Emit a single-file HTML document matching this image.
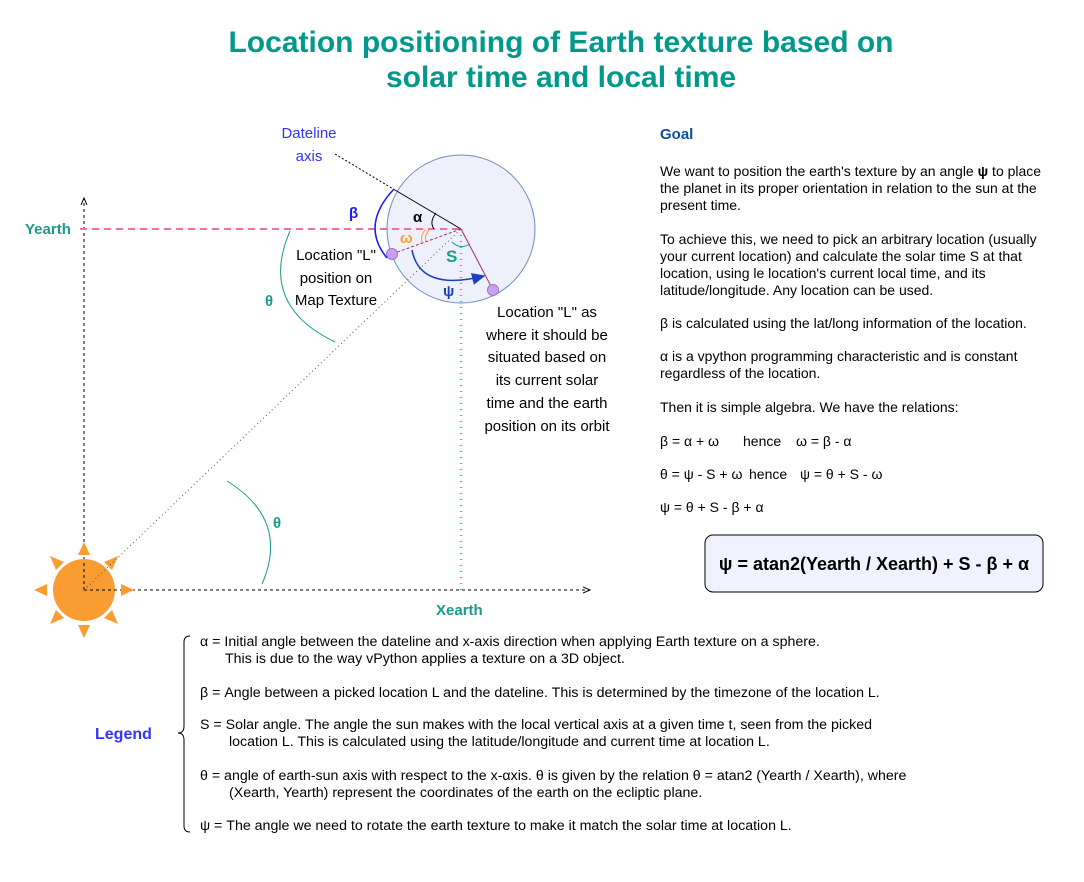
<!DOCTYPE html>
<html><head><meta charset="utf-8"><style>
body{margin:0;background:#fff;}
svg text{font-family:"Liberation Sans",Arial,sans-serif;}
</style></head><body>
<svg width="1084" height="877" viewBox="0 0 1084 877" xmlns="http://www.w3.org/2000/svg">
<defs>
<marker id="arr" markerWidth="8" markerHeight="8" refX="7" refY="4" orient="auto"><path d="M0,1 L7,4 L0,7" fill="none" stroke="#000" stroke-width="1"/></marker>
<marker id="arrb" markerWidth="10" markerHeight="10" refX="8" refY="5" orient="auto"><path d="M0,1 L9,5 L0,9 Z" fill="#1a3fbf"/></marker>
</defs>
<g fill="#00998a" font-weight="bold" font-size="30" text-anchor="middle">
<text x="561" y="52">Location positioning of Earth texture based on</text>
<text x="561" y="87">solar time and local time</text>
</g>
<line x1="84" y1="590" x2="84" y2="198" stroke="#000" stroke-dasharray="3,3" marker-end="url(#arr)"/>
<line x1="84" y1="590" x2="590" y2="590" stroke="#000" stroke-dasharray="3,3" marker-end="url(#arr)"/>
<g fill="#f99d32">
<circle cx="84" cy="590" r="31"/>
<polygon points="84,542 78,555 90,555"/><polygon points="84,638 78,625 90,625"/>
<polygon points="34,590 47,584 47,596"/><polygon points="134,590 121,584 121,596"/>
<polygon points="50,556 64,562 56,570"/><polygon points="118,556 104,562 112,570"/>
<polygon points="50,624 64,618 56,610"/><polygon points="118,624 104,618 112,610"/>
</g>
<line x1="84" y1="590" x2="84" y2="560" stroke="#000" stroke-dasharray="3,3"/>
<line x1="84" y1="590" x2="120" y2="590" stroke="#000" stroke-dasharray="3,3"/>
<circle cx="461" cy="229" r="74" fill="#eef1fb" stroke="#6c8ebf"/>
<line x1="84" y1="590" x2="461" y2="229" stroke="#555" stroke-dasharray="1,3"/>
<line x1="80" y1="229" x2="461" y2="229" stroke="#f06fa8" stroke-width="2" stroke-dasharray="7,5"/>
<line x1="461" y1="229" x2="461" y2="590" stroke="#f06fa8" stroke-width="2.5" stroke-dasharray="1,5"/>
<line x1="335" y1="154" x2="395" y2="190" stroke="#000" stroke-dasharray="2,2"/>
<line x1="395" y1="190" x2="461" y2="229" stroke="#000"/>
<line x1="461" y1="229" x2="392" y2="254" stroke="#a0306a" stroke-dasharray="3,2"/>
<line x1="461" y1="229" x2="493" y2="290" stroke="#a0306a"/>
<circle cx="392" cy="254" r="5.5" fill="#c9a0f0" stroke="#a070d0"/>
<circle cx="493" cy="290" r="5.5" fill="#c9a0f0" stroke="#a070d0"/>
<path d="M394,189 Q360,225 387,258" fill="none" stroke="#1a1aff" stroke-width="1.5"/>
<path d="M436,213 Q429,222 434,229" fill="none" stroke="#000"/>
<path d="M425,230 Q420,236 422,242 M429,230 Q424,236 426,241" fill="none" stroke="#f99d32"/>
<path d="M452,242 Q460,250 470,244" fill="none" stroke="#1a9a8a"/>
<path d="M412,250 Q420,292 484,276" fill="none" stroke="#1a3fbf" stroke-width="1.5" marker-end="url(#arrb)"/>
<path d="M290,231 Q258,305 335,342" fill="none" stroke="#1a9a8a"/>
<path d="M227,481 Q290,520 262,584" fill="none" stroke="#1a9a8a"/>
<g font-size="15">
<text x="309" y="138" fill="#3333ff" text-anchor="middle">Dateline</text>
<text x="309" y="161" fill="#3333ff" text-anchor="middle">axis</text>
<text x="25" y="234" fill="#1a9a8a" font-weight="bold">Yearth</text>
<text x="436" y="615" fill="#1a9a8a" font-weight="bold">Xearth</text>
<text x="349" y="218" fill="#1a1aff" font-weight="bold">β</text>
<text x="413" y="222" fill="#000" font-weight="bold">α</text>
<text x="400" y="243" fill="#f99d32" font-weight="bold">ω</text>
<text x="446" y="262" fill="#1a9a8a" font-weight="bold" font-size="17">S</text>
<text x="443" y="296" fill="#1a3fbf" font-weight="bold">ψ</text>
<text x="265" y="306" fill="#1a9a8a" font-weight="bold">θ</text>
<text x="273" y="528" fill="#1a9a8a" font-weight="bold">θ</text>
</g>
<g font-size="15" fill="#000" text-anchor="middle">
<text x="336" y="260">Location "L"</text><text x="336" y="283">position on</text><text x="336" y="305">Map Texture</text>
</g>
<g font-size="15" fill="#000" text-anchor="middle">
<text x="547" y="317">Location "L" as</text><text x="547" y="340">where it should be</text><text x="547" y="362">situated based on</text><text x="547" y="385">its current solar</text><text x="547" y="408">time and the earth</text><text x="547" y="431">position on its orbit</text>
</g>
<text x="660" y="139" font-size="15" font-weight="bold" fill="#0a4fa0">Goal</text>
<g font-size="14" fill="#000">
<text x="660" y="176">We want to position the earth's texture by an angle <tspan font-weight="bold">ψ</tspan> to place</text>
<text x="660" y="193">the planet in its proper orientation in relation to the sun at the</text>
<text x="660" y="210">present time.</text>
<text x="660" y="244">To achieve this, we need to pick an arbitrary location (usually</text>
<text x="660" y="261">your current location) and calculate the solar time S at that</text>
<text x="660" y="278">location, using le location's current local time, and its</text>
<text x="660" y="295">latitude/longitude. Any location can be used.</text>
<text x="660" y="328">β is calculated using the lat/long information of the location.</text>
<text x="660" y="361">α is a vpython programming characteristic and is constant</text>
<text x="660" y="378">regardless of the location.</text>
<text x="660" y="412">Then it is simple algebra. We have the relations:</text>
<text x="660" y="446">β = α + ω<tspan x="743">hence</tspan><tspan x="796">ω = β - α</tspan></text>
<text x="660" y="479">θ = ψ - S + ω<tspan x="749">hence</tspan><tspan x="800">ψ = θ + S - ω</tspan></text>
<text x="660" y="512">ψ = θ + S - β + α</text>
</g>
<rect x="705" y="535" width="338" height="57" rx="8" fill="#f0f3ff" stroke="#000"/>
<text x="874" y="570" font-size="18" font-weight="bold" text-anchor="middle" fill="#000">ψ = atan2(Yearth / Xearth) + S - β + α</text>
<text x="95" y="739" font-size="16" font-weight="bold" fill="#3333ff">Legend</text>
<path d="M190,636 Q184,636 184,642 L184,726 Q184,733 178,733 Q184,733 184,740 L184,826 Q184,832 190,832" fill="none" stroke="#000"/>
<g font-size="14.2" fill="#000">
<text x="200" y="646">α = Initial angle between the dateline and x-axis direction when applying Earth texture on a sphere.</text>
<text x="225" y="663">This is due to the way vPython applies a texture on a 3D object.</text>
<text x="200" y="697">β = Angle between a picked location L and the dateline. This is determined by the timezone of the location L.</text>
<text x="200" y="729">S = Solar angle. The angle the sun makes with the local vertical axis at a given time t, seen from the picked</text>
<text x="229" y="746">location L. This is calculated using the latitude/longitude and current time at location L.</text>
<text x="200" y="780">θ = angle of earth-sun axis with respect to the x-αxis. θ is given by the relation θ = atan2 (Yearth / Xearth), where</text>
<text x="229" y="797">(Xearth, Yearth) represent the coordinates of the earth on the ecliptic plane.</text>
<text x="200" y="830">ψ = The angle we need to rotate the earth texture to make it match the solar time at location L.</text>
</g>
</svg>
</body></html>
